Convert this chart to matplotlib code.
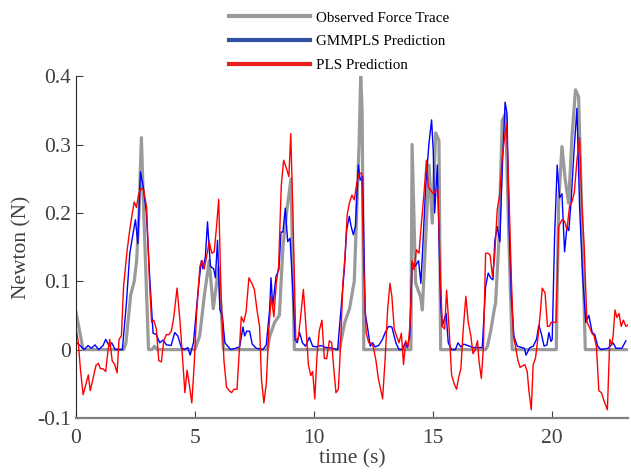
import numpy as np
import matplotlib
matplotlib.use('Agg')
import matplotlib.pyplot as plt

# observed force trace (time, newton)
obs_t = [0.0, 0.3, 2.0, 2.1, 2.3, 2.45, 2.55, 2.65, 2.75, 2.85, 3.0, 3.05, 3.2, 3.3, 3.4,
         5.0, 5.2, 5.4, 5.6, 5.77, 6.0, 6.2, 8.05, 8.15, 8.35, 8.55, 8.7, 8.85, 9.04, 9.18,
         11.07, 11.3, 11.5, 11.7, 11.8, 11.9, 11.97, 12.03, 12.1,
         14.08, 14.13, 14.28, 14.49, 14.56, 14.7, 14.84, 14.98, 15.12, 15.26, 15.33,
         17.22, 17.3, 17.45, 17.58, 17.64, 17.78, 17.92, 18.06, 18.2, 18.34,
         20.19, 20.29, 20.43, 20.57, 20.71, 20.85, 21.0, 21.13, 21.27, 21.41, 23.2]
obs_v = [0.055, 0.0, 0.0, 0.01, 0.08, 0.1, 0.13, 0.2, 0.31, 0.2, 0.05, 0.0, 0.0, 0.005, 0.0,
         0.0, 0.02, 0.08, 0.13, 0.06, 0.12, 0.0, 0.0, 0.02, 0.04, 0.05, 0.15, 0.2, 0.25, 0.0,
         0.0, 0.04, 0.06, 0.1, 0.2, 0.3, 0.4, 0.35, 0.0,
         0.0, 0.30, 0.097, 0.077, 0.058, 0.16, 0.27, 0.185, 0.317, 0.306, 0.0,
         0.0, 0.005, 0.03, 0.058, 0.068, 0.16, 0.335, 0.345, 0.16, 0.0,
         0.0, 0.214, 0.297, 0.248, 0.214, 0.311, 0.38, 0.37, 0.19, 0.0, 0.0]

# GMMPLS prediction
gmm_t = [0.03, 0.2, 0.35, 0.5, 0.65, 0.8, 0.95, 1.14, 1.25, 1.4, 1.5, 1.65, 1.95, 2.12, 2.26,
         2.4, 2.5, 2.6, 2.71, 2.82, 2.96, 3.1, 3.24, 3.38, 3.52, 3.66, 3.8, 4.0, 4.15, 4.28,
         4.43, 4.55, 4.7, 4.8, 4.94, 5.15, 5.27, 5.34, 5.44, 5.53, 5.65, 5.79, 5.86, 5.95,
         6.05, 6.15, 6.26, 6.5, 6.71, 6.88, 7.02, 7.09, 7.18, 7.3, 7.41, 7.58, 7.86, 8.0,
         8.14, 8.2, 8.27, 8.41, 8.53, 8.62, 8.7, 8.8, 8.9, 9.0, 9.1, 9.21, 9.3, 9.4, 9.52,
         9.65, 9.81, 9.95, 10.1, 10.3, 10.5, 10.65, 11.0, 11.14, 11.28, 11.38, 11.49, 11.57,
         11.66, 11.75, 11.87, 11.95, 12.05, 12.16, 12.25, 12.37, 12.47, 12.57, 12.72, 12.87,
         13.0, 13.14, 13.28, 13.45, 13.58, 13.72, 13.84, 13.93, 14.03, 14.13, 14.26, 14.4,
         14.5, 14.6, 14.7, 14.84, 14.95, 15.02, 15.08, 15.19, 15.26, 15.33, 15.4, 15.47,
         15.56, 15.65, 15.79, 15.95, 16.06, 16.18, 16.3, 16.47, 16.7, 17.08, 17.22, 17.33,
         17.43, 17.53, 17.61, 17.71, 17.82, 17.92, 18.04, 18.12, 18.2, 18.3, 18.41, 18.55,
         18.76, 18.85, 18.92, 19.08, 19.22, 19.36, 19.46, 19.57, 19.68, 19.8, 19.88, 19.97,
         20.02, 20.12, 20.23, 20.33, 20.43, 20.54, 20.64, 20.72, 20.82, 20.93, 21.06, 21.17,
         21.3, 21.43, 21.56, 21.7, 21.81, 21.93, 22.07, 22.38, 22.58, 22.7, 22.95, 23.12]
gmm_v = [0.01, 0.005, 0.0, 0.006, 0.002, 0.007, 0.0, 0.006, 0.015, 0.005, 0.01, 0.0, 0.0,
         0.068, 0.14, 0.17, 0.19, 0.155, 0.26, 0.24, 0.2, 0.106, 0.024, 0.022, 0.01, 0.014,
         0.007, 0.006, 0.025, 0.02, 0.003, 0.0, 0.003, -0.008, 0.01, 0.092, 0.13, 0.118, 0.136,
         0.187, 0.122, 0.118, 0.105, 0.16, 0.058, 0.05, 0.01, 0.0, 0.002, 0.004, 0.033, 0.02,
         0.027, 0.027, 0.008, 0.002, 0.0, 0.007, 0.058, 0.105, 0.063, 0.107, 0.117, 0.172,
         0.172, 0.207, 0.158, 0.163, 0.097, 0.015, 0.01, 0.025, 0.01, 0.005, 0.018, 0.005,
         0.004, 0.006, 0.003, 0.003, 0.0, 0.058, 0.117, 0.175, 0.195, 0.18, 0.168, 0.18, 0.27,
         0.248, 0.253, 0.053, 0.034, 0.005, 0.01, 0.004, 0.006, 0.014, 0.025, 0.034, 0.033,
         0.01, 0.0, 0.0, 0.01, 0.003, 0.02, 0.127, 0.122, 0.13, 0.097, 0.165, 0.238, 0.302,
         0.336, 0.29, 0.2, 0.27, 0.165, 0.068, 0.034, 0.043, 0.053, 0.01, 0.0, 0.0, 0.01,
         0.004, 0.008, 0.006, 0.003, 0.003, 0.092, 0.112, 0.105, 0.102, 0.16, 0.18, 0.158,
         0.263, 0.362, 0.345, 0.19, 0.078, 0.02, 0.005, 0.003, 0.002, -0.008, 0.003, 0.005,
         0.015, 0.036, 0.022, 0.005, 0.007, 0.025, 0.012, 0.015, 0.165, 0.27, 0.222, 0.228,
         0.143, 0.18, 0.174, 0.22, 0.287, 0.353, 0.21, 0.107, 0.04, 0.05, 0.025, 0.022, 0.005,
         0.0, 0.002, 0.01, 0.002, 0.002, 0.013]

# PLS prediction
pls_t = [0.0, 0.1, 0.19, 0.3, 0.42, 0.52, 0.6, 0.72, 0.84, 0.94, 1.03, 1.14, 1.25, 1.35,
         1.42, 1.52, 1.63, 1.73, 1.81, 1.91, 2.0, 2.15, 2.26, 2.37, 2.45, 2.54, 2.64, 2.75,
         2.85, 2.97, 3.08, 3.18, 3.27, 3.38, 3.48, 3.59, 3.69, 3.8, 3.91, 4.01, 4.11, 4.25,
         4.37, 4.48, 4.58, 4.67, 4.76, 4.87, 4.97, 5.07, 5.21, 5.31, 5.39, 5.49, 5.6, 5.71,
         5.81, 5.91, 6.0, 6.1, 6.22, 6.33, 6.44, 6.54, 6.64, 6.77, 6.85, 6.95, 7.05, 7.15,
         7.27, 7.38, 7.5, 7.61, 7.72, 7.8, 7.9, 8.0, 8.11, 8.21, 8.32, 8.42, 8.52, 8.63, 8.73,
         8.85, 8.95, 9.03, 9.13, 9.24, 9.34, 9.44, 9.56, 9.67, 9.77, 9.87, 9.95, 10.04, 10.13,
         10.23, 10.34, 10.44, 10.54, 10.65, 10.75, 10.85, 10.93, 11.03, 11.12, 11.22, 11.31,
         11.4, 11.49, 11.6, 11.7, 11.8, 11.91, 12.01, 12.1, 12.2, 12.31, 12.4, 12.5, 12.61,
         12.71, 12.79, 12.89, 13.0, 13.1, 13.2, 13.28, 13.38, 13.48, 13.58, 13.68, 13.77,
         13.86, 13.96, 14.05, 14.13, 14.21, 14.31, 14.42, 14.51, 14.63, 14.73, 14.81, 14.91,
         15.02, 15.12, 15.22, 15.31, 15.4, 15.5, 15.58, 15.68, 15.79, 15.9, 16.0, 16.08, 16.18,
         16.28, 16.39, 16.49, 16.6, 16.69, 16.78, 16.88, 16.94, 17.04, 17.13, 17.22, 17.32,
         17.41, 17.51, 17.6, 17.71, 17.81, 17.92, 18.02, 18.1, 18.2, 18.3, 18.39, 18.48, 18.58,
         18.67, 18.76, 18.87, 18.97, 19.04, 19.14, 19.22, 19.32, 19.43, 19.53, 19.6, 19.72,
         19.82, 19.9, 19.98, 20.08, 20.18, 20.29, 20.43, 20.54, 20.64, 20.75, 20.85, 20.95,
         21.06, 21.17, 21.27, 21.36, 21.48, 21.57, 21.69, 21.78, 21.88, 21.98, 22.09, 22.2,
         22.34, 22.44, 22.52, 22.58, 22.66, 22.74, 22.83, 22.92, 23.01, 23.12, 23.2]
pls_v = [0.033, 0.01, -0.03, -0.066, -0.05, -0.037, -0.06, -0.042, -0.023, -0.02, -0.028,
         -0.028, -0.032, 0.0, 0.015, -0.016, -0.022, -0.034, 0.015, 0.02, 0.092, 0.145, 0.175,
         0.2, 0.216, 0.208, 0.228, 0.236, 0.233, 0.208, 0.107, 0.04, 0.043, 0.03, -0.016,
         -0.018, 0.013, 0.022, 0.022, 0.027, 0.047, 0.09, 0.043, -0.012, -0.063, -0.03, -0.05,
         -0.078, -0.022, 0.053, 0.122, 0.13, 0.118, 0.136, 0.158, 0.141, 0.143, 0.18, 0.22,
         0.078, -0.016, -0.055, -0.06, -0.063, -0.058, -0.058, -0.012, 0.048, 0.04, 0.055,
         0.105, 0.098, 0.088, 0.058, 0.033, -0.045, -0.078, -0.05, 0.03, 0.078, 0.048, 0.097,
         0.122, 0.24, 0.277, 0.265, 0.253, 0.316, 0.185, 0.015, 0.015, 0.047, 0.088, 0.033,
         -0.022, -0.038, -0.032, -0.072, -0.01, 0.028, 0.043, -0.013, -0.013, 0.013, 0.01,
         -0.033, -0.063, -0.058, 0.004, 0.097, 0.136, 0.197, 0.214, 0.226, 0.219, 0.243, 0.258,
         0.258, 0.117, 0.024, 0.01, 0.01, 0.004, -0.016, -0.042, -0.055, -0.072, -0.012, 0.058,
         0.097, 0.078, 0.03, 0.02, 0.01, 0.024, -0.022, 0.013, 0.004, 0.04, 0.13, 0.117,
         0.146, 0.141, 0.18, 0.228, 0.277, 0.238, 0.233, 0.228, 0.233, 0.233, 0.117, 0.034,
         0.03, 0.087, 0.034, -0.037, -0.05, -0.058, -0.042, -0.028, 0.03, 0.078, 0.04, 0.02,
         -0.006, 0.0, 0.013, -0.016, -0.042, 0.004, 0.141, 0.141, 0.138, 0.107, 0.136, 0.205,
         0.226, 0.282, 0.311, 0.33, 0.228, 0.107, 0.02, 0.004, -0.016, -0.026, -0.024, -0.022,
         -0.032, -0.06, -0.088, -0.022, -0.012, 0.02, 0.058, 0.09, 0.083, 0.034, 0.034, 0.04,
         0.04, 0.04, 0.18, 0.19, 0.188, 0.175, 0.21, 0.216, 0.23, 0.277, 0.31, 0.21, 0.155,
         0.04, 0.034, 0.024, 0.02, 0.004, -0.06, -0.063, -0.075, -0.088, 0.015, 0.007, 0.02,
         0.058, 0.047, 0.053, 0.034, 0.043, 0.034, 0.036]

plt.rcParams['font.family'] = ['Liberation Serif', 'DejaVu Serif']
plt.rcParams['axes.unicode_minus'] = False
txt = '#404040'

fig = plt.figure(figsize=(6.31, 4.73), dpi=100)
ax = fig.add_axes([0.1204, 0.1163, 0.8746, 0.7227])

l1, = ax.plot(obs_t, obs_v, color='#9a9a9a', linewidth=2.3, label='Observed Force Trace')
l2, = ax.plot(gmm_t, gmm_v, color='#0000ff', linewidth=1.0, label='GMMPLS Prediction')
l3, = ax.plot(pls_t, pls_v, color='#ff0000', linewidth=1.0, label='PLS Prediction')

ax.set_xlim(0, 23.2)
ax.set_ylim(-0.1, 0.4)
ax.set_xticks([0, 5, 10, 15, 20])
ax.set_yticks([-0.1, 0, 0.1, 0.2, 0.3, 0.4])
ax.set_yticklabels(['-0.1', '0', '0.1', '0.2', '0.3', '0.4'])
ax.tick_params(direction='in', length=5, width=0.8, labelsize=15.5, colors=txt)
ax.tick_params(axis='x', pad=8)
for s in ['top', 'right']:
    ax.spines[s].set_visible(False)
ax.spines['left'].set_color('#262626')
ax.spines['left'].set_linewidth(0.8)
ax.spines['bottom'].set_color('#808080')
ax.spines['bottom'].set_linewidth(1.6)

ax.set_xlabel('time (s)', fontsize=15.5, color=txt, labelpad=1)
ax.set_ylabel('Newton (N)', fontsize=15.5, color=txt, labelpad=4)

leg = fig.legend(handles=[l1, l2, l3], loc='upper left', bbox_to_anchor=(0.342, 1.005),
                 frameon=False, fontsize=10.8, handlelength=5.4, handletextpad=0.4,
                 labelspacing=0.68)
for h in leg.legend_handles:
    h.set_linewidth(3)
leg.legend_handles[1].set_color('#3050a0')
leg.legend_handles[2].set_color('#e82020')

fig.savefig('out.png', dpi=100)
